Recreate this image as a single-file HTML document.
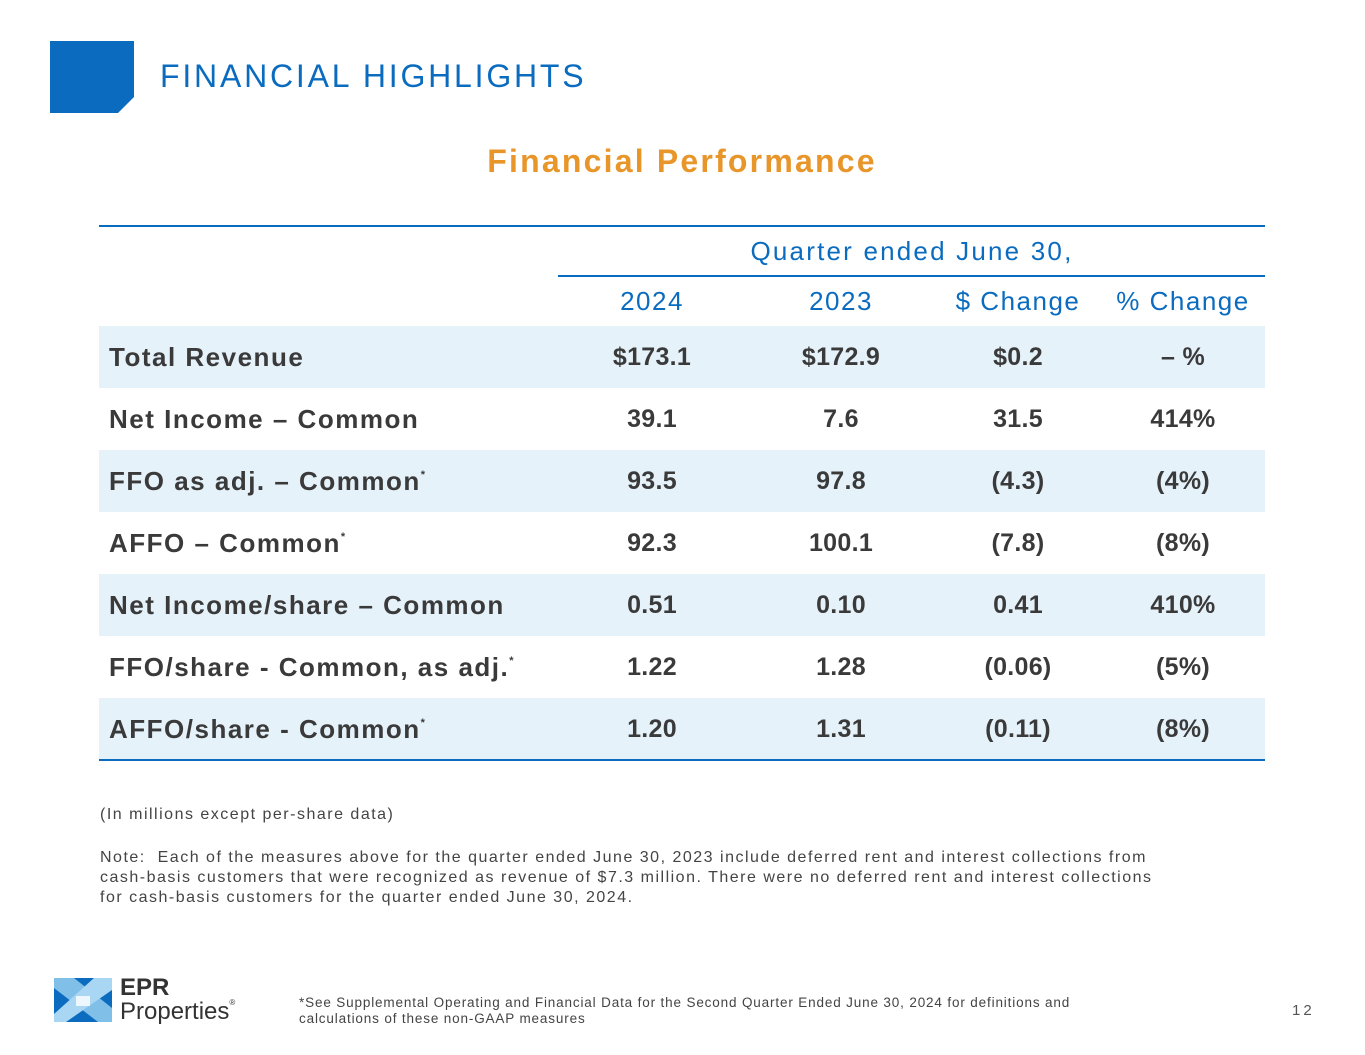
<!DOCTYPE html>
<html><head><meta charset="utf-8"><style>
body{margin:0;width:1365px;height:1055px;background:#fff;position:relative;overflow:hidden;font-family:"Liberation Sans",sans-serif;color:#333}
.a{position:absolute;white-space:nowrap}
.row{position:absolute;left:99px;width:1166px;height:62px}
.cell{position:absolute;top:0;height:62px;line-height:62px;font-size:25px;font-weight:bold;color:#3a3a3a;letter-spacing:0.3px}
.lab{font-size:26px;letter-spacing:1.5px}
.num{transform:translateX(-50%)}
.hdr{font-size:26px;color:#0b6cbf;transform:translateX(-50%);letter-spacing:1.5px}
sup{font-size:11px;vertical-align:top;position:relative;top:-6px}
.note{font-size:16px;color:#444;left:100px;letter-spacing:1.5px}
</style></head><body>
<svg class="a" style="left:50px;top:41px" width="85" height="73"><polygon points="0,0 84,0 84,56 68,72 0,72" fill="#0b6cbf"/></svg>
<div class="a" style="left:160px;top:58px;font-size:32px;color:#0b6cbf;letter-spacing:2.8px">FINANCIAL HIGHLIGHTS</div>
<div class="a" style="left:682px;top:143px;transform:translateX(-50%);font-size:32px;font-weight:bold;color:#e8962a;letter-spacing:2.2px">Financial Performance</div>

<div class="a" style="left:99px;top:225px;width:1166px;height:2px;background:#0b6cbf"></div>
<div class="a hdr" style="left:912px;top:236px;letter-spacing:2.2px">Quarter ended June 30,</div>
<div class="a" style="left:558px;top:275px;width:707px;height:2px;background:#0b6cbf"></div>
<div class="a hdr" style="left:652px;top:286px">2024</div>
<div class="a hdr" style="left:841px;top:286px">2023</div>
<div class="a hdr" style="left:1018px;top:286px">$ Change</div>
<div class="a hdr" style="left:1183px;top:286px">% Change</div>

<div id="rows"></div>
<div class="a" style="left:99px;top:759px;width:1166px;height:2px;background:#0b6cbf"></div>

<div class="a note" style="top:806px">(In millions except per-share data)</div>
<div class="a note" style="top:848px;line-height:20px">Note:&nbsp; Each of the measures above for the quarter ended June 30, 2023 include deferred rent and interest collections from<br>cash-basis customers that were recognized as revenue of $7.3 million. There were no deferred rent and interest collections<br>for cash-basis customers for the quarter ended June 30, 2024.</div>

<svg class="a" style="left:54px;top:978px" width="58" height="44">
<rect width="58" height="44" rx="3" fill="#0b6cbf"/>
<polygon points="0,0 20,0 58,30 58,44 44,44 0,10" fill="#7fbfe8"/>
<polygon points="58,0 40,0 0,36 0,44 12,44 58,12" fill="#a9d6f2"/>
<polygon points="22,18 36,18 36,28 22,28" fill="#fff" opacity="0.8"/>
</svg>
<div class="a" style="left:120px;top:974px;font-size:24px;font-weight:bold;color:#333">EPR</div>
<div class="a" style="left:120px;top:998px;font-size:24px;color:#333">Properties<span style="font-size:8px;vertical-align:top">®</span></div>
<div class="a" style="left:299px;top:995px;font-size:13.5px;color:#444;line-height:16px;letter-spacing:0.85px">*See Supplemental Operating and Financial Data for the Second Quarter Ended June 30, 2024 for definitions and<br>calculations of these non-GAAP measures</div>
<div class="a" style="left:1292px;top:1002px;font-size:15px;color:#555;letter-spacing:3px">12</div>

<script>
const labels=["Total Revenue","Net Income – Common","FFO as adj. – Common","AFFO – Common","Net Income/share – Common","FFO/share - Common, as adj.","AFFO/share - Common"];
const stars=[false,false,true,true,false,true,true];
const v2024=["$173.1","39.1","93.5","92.3","0.51","1.22","1.20"];
const v2023=["$172.9","7.6","97.8","100.1","0.10","1.28","1.31"];
const dChange=["$0.2","31.5","(4.3)","(7.8)","0.41","(0.06)","(0.11)"];
const pChange=["– %","414%","(4%)","(8%)","410%","(5%)","(8%)"];
const host=document.getElementById('rows');
labels.forEach((l,i)=>{
  const r=document.createElement('div');
  r.className='row';
  r.style.top=(326+i*62)+'px';
  r.style.background=i%2===0?'#e6f2fa':'#fff';
  
  
  const lab=document.createElement('div');
  lab.className='cell lab';lab.style.left='10px';
  lab.innerHTML=l+(stars[i]?'<sup>*</sup>':'');
  
  
  r.appendChild(lab);
  [[v2024,553],[v2023,742],[dChange,919],[pChange,1084]].forEach(([arr,x])=>{
    const c=document.createElement('div');
    c.className='cell num';c.style.left=x+'px';c.textContent=arr[i];
    
    
    r.appendChild(c);
  });
  host.appendChild(r);
});
</script>
</body></html>
